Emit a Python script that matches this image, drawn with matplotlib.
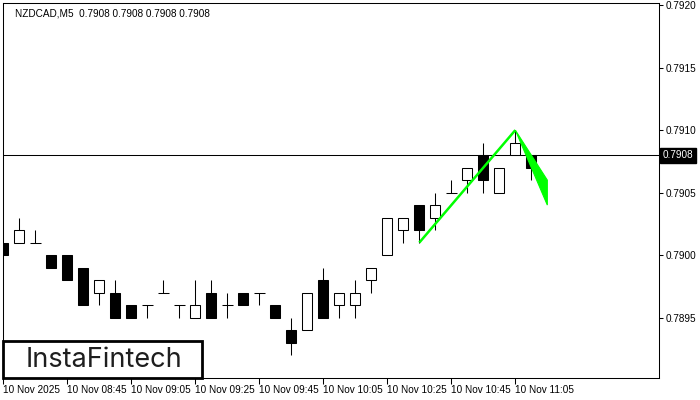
import matplotlib
matplotlib.use("Agg")
import matplotlib.pyplot as plt
from matplotlib.patches import Rectangle, Polygon
from matplotlib.transforms import blended_transform_factory

# ---- data ----
opens  = [0.7901, 0.7901, 0.7901, 0.7900, 0.7900, 0.7899, 0.7897, 0.7897, 0.7896, 0.7896,
          0.7897, 0.7896, 0.7895, 0.7897, 0.7896, 0.7897, 0.7897, 0.7896, 0.7894, 0.7894,
          0.7898, 0.7896, 0.7896, 0.7898, 0.7900, 0.7902, 0.7904, 0.7903, 0.7905, 0.7906,
          0.7908, 0.7905, 0.7908, 0.7908]
highs  = [0.7901, 0.7903, 0.7902, 0.7900, 0.7900, 0.7899, 0.7898, 0.7898, 0.7896, 0.7896,
          0.7898, 0.7896, 0.7898, 0.7898, 0.7897, 0.7897, 0.7897, 0.7896, 0.7895, 0.7897,
          0.7899, 0.7897, 0.7898, 0.7899, 0.7903, 0.7903, 0.7904, 0.7905, 0.7906, 0.7907,
          0.7909, 0.7907, 0.7910, 0.7908]
lows   = [0.7900, 0.7901, 0.7901, 0.7899, 0.7898, 0.7896, 0.7896, 0.7895, 0.7895, 0.7895,
          0.7897, 0.7895, 0.7895, 0.7895, 0.7895, 0.7896, 0.7896, 0.7895, 0.7892, 0.7894,
          0.7895, 0.7895, 0.7895, 0.7897, 0.7900, 0.7901, 0.7901, 0.7902, 0.7905, 0.7905,
          0.7905, 0.7905, 0.7908, 0.7906]
closes = [0.7900, 0.7902, 0.7901, 0.7899, 0.7898, 0.7896, 0.7898, 0.7895, 0.7895, 0.7896,
          0.7897, 0.7896, 0.7896, 0.7895, 0.7896, 0.7896, 0.7897, 0.7895, 0.7893, 0.7897,
          0.7895, 0.7897, 0.7897, 0.7899, 0.7903, 0.7903, 0.7902, 0.7904, 0.7905, 0.7907,
          0.7906, 0.7907, 0.7909, 0.7907]
tick_positions = [0, 4, 8, 12, 16, 20, 24, 28, 32]
tick_labels = ["10 Nov 2025", "10 Nov 08:45", "10 Nov 09:05", "10 Nov 09:25", "10 Nov 09:45",
               "10 Nov 10:05", "10 Nov 10:25", "10 Nov 10:45", "10 Nov 11:05"]
y_ticks = [0.7895, 0.7900, 0.7905, 0.7910, 0.7915, 0.7920]
current_price = 0.7908
pole_x = [26, 32]
pole_y = [0.7901, 0.7910]
flag_x = [32, 34, 34]
flag_y = [0.7910, 0.7906, 0.7904]
title_text = "NZDCAD,M5  0.7908 0.7908 0.7908 0.7908"

FONT = "Liberation Sans"
FS = 7.2

# ---- figure ----
W, H = 700, 400
fig = plt.figure(figsize=(W / 100, H / 100), dpi=100)
left, right, top, bottom = 2.7, 659, 2.7, 377.5
ax = fig.add_axes([left / W, 1 - bottom / H, (right - left) / W, (bottom - top) / H])
ax.set_xlim(-0.04, 40.98)
ax.set_ylim(0.78902, 0.79202)

lw = 0.75
bw = 0.62
for i, (o, h, l, c) in enumerate(zip(opens, highs, lows, closes)):
    ax.plot([i, i], [l, h], color="black", lw=lw, zorder=2, solid_capstyle="butt")
    if o == c:
        ax.plot([i - bw / 2 - 0.03, i + bw / 2 + 0.03], [o, o], color="black", lw=lw, zorder=3,
                solid_capstyle="butt")
    else:
        fc = "white" if c > o else "black"
        ax.add_patch(Rectangle((i - bw / 2, min(o, c)), bw, abs(c - o), facecolor=fc,
                               edgecolor="black", lw=lw, zorder=3))

# current price line
ax.axhline(current_price, color="black", lw=lw, zorder=1)

# pattern
ax.plot(pole_x, pole_y, color="#00ff00", lw=1.8, zorder=5, solid_capstyle="butt")
ax.add_patch(Polygon(list(zip(flag_x, flag_y)), closed=True, facecolor="#00ff00",
                     edgecolor="#00ff00", lw=0.8, zorder=5))

# axes styling
for s in ax.spines.values():
    s.set_linewidth(lw)
    s.set_color("black")
ax.yaxis.tick_right()
ax.set_yticks(y_ticks)
ax.set_yticklabels([f"{v:.4f}" for v in y_ticks])
ax.tick_params(axis="y", direction="out", length=3, width=lw, pad=1.5, labelsize=FS)
ax.set_xticks(tick_positions)
ax.set_xticklabels(tick_labels, ha="left")
ax.tick_params(axis="x", direction="out", length=4, width=lw, pad=1.5, labelsize=FS)
for lab in ax.get_xticklabels() + ax.get_yticklabels():
    lab.set_fontfamily(FONT)

# current price label
tr = blended_transform_factory(ax.transAxes, ax.transData)
ax.text(1.006, current_price, f"{current_price:.4f}", transform=tr, ha="left", va="center",
        fontsize=FS, family=FONT, color="white", zorder=10, clip_on=False,
        bbox=dict(boxstyle="square,pad=0.25", facecolor="black", edgecolor="black"))

# title
fig.text(15.5 / W, 1 - 13 / H, title_text, ha="left", va="center", fontsize=FS,
         family=FONT, color="black")

# logo
box_l, box_r, box_t, box_b = 3, 202, 341, 378
fig.patches.append(Rectangle((box_l / W, 1 - box_b / H), (box_r - box_l) / W, (box_b - box_t) / H,
                             transform=fig.transFigure, facecolor="white", edgecolor="black",
                             lw=2, zorder=20))
fig.text((box_l + box_r) / 2 / W + 0.0015, 1 - 360 / H, "InstaFintech", ha="center", va="center",
         fontsize=19.5, family="Inter", weight="normal", color="#1e1e1e", zorder=21)

fig.savefig("out.png", dpi=100)
